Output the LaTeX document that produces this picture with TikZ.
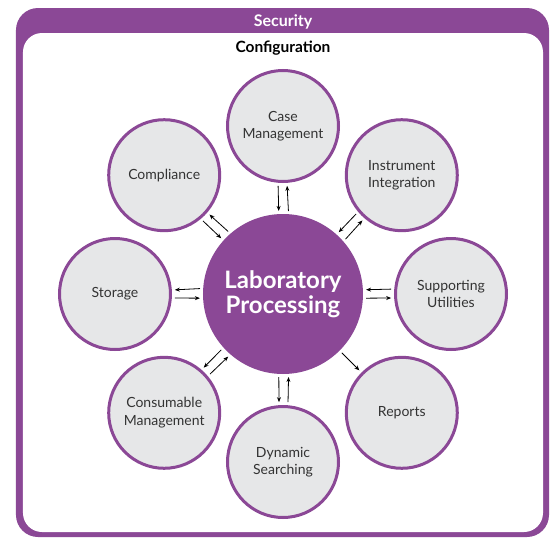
\documentclass[tikz,border=0pt]{standalone}
\usepackage{fontspec}
\setmainfont{Lato}
\usetikzlibrary{arrows.meta}
\definecolor{labpurple}{RGB}{139,72,150}
\definecolor{satgray}{RGB}{230,231,232}
\definecolor{labeltext}{RGB}{51,51,51}
\begin{document}
\begin{tikzpicture}[x=1pt,y=1pt]
\tikzstyle{hub} = [circle, minimum size=160pt, inner sep=0pt, fill=labpurple, text=white, font=\fontsize{24}{24.5}\selectfont\bfseries, align=center]
\tikzstyle{sat} = [circle, minimum size=111pt, inner sep=0pt, draw=labpurple, line width=3pt, fill=satgray, text=labeltext, font=\fontsize{14}{17.5}\selectfont, align=center]
\tikzstyle{link} = [-{Stealth[length=5pt,width=4pt]}, line width=0.8pt, shorten <=3pt, shorten >=3pt]
%
\useasboundingbox (-283,-245) rectangle (269,294);
\fill[labpurple, rounded corners=22pt] (-267,-243) rectangle (266,286);
\fill[white, rounded corners=19pt] (-260,-238) rectangle (260,261);
\node[anchor=base, text=white, font=\fontsize{16}{18}\selectfont\bfseries] (sec) at (0,268) {Security};
\node[anchor=base, font=\fontsize{15.5}{18}\selectfont\bfseries] (conf) at (0,242) {Configuration};
%
\node[hub] (lab) at (0,0) {Laboratory\\Processing};
\node[sat] (case) at (90:168) {Case\\Management};
\node[sat] (inst) at (45:168) {Instrument\\Integration};
\node[sat] (supp) at (0:168) {Supporting\\Utilities};
\node[sat] (rep) at (-45:168) {Reports};
\node[sat] (dyn) at (-90:168) {Dynamic\\Searching};
\node[sat] (cons) at (-135:168) {Consumable\\Management};
\node[sat] (stor) at (180:168) {Storage};
\node[sat] (comp) at (135:168) {Compliance};
%
\draw[link] (lab.86.8) -- (case.274.5);
\draw[link] (case.265.5) -- (lab.93.2);
\draw[link] (lab.41.8) -- (inst.229.5);
\draw[link] (inst.220.5) -- (lab.48.2);
\draw[link] (lab.-3.2) -- (supp.184.5);
\draw[link] (supp.175.5) -- (lab.3.2);
\draw[link] (lab.-45) -- (rep.135);
\draw[link] (lab.-93.2) -- (dyn.94.5);
\draw[link] (dyn.85.5) -- (lab.-86.8);
\draw[link] (lab.-138.2) -- (cons.49.5);
\draw[link] (cons.40.5) -- (lab.-131.8);
\draw[link] (lab.176.8) -- (stor.4.5);
\draw[link] (stor.-4.5) -- (lab.183.2);
\draw[link] (lab.131.8) -- (comp.319.5);
\draw[link] (comp.310.5) -- (lab.138.2);
\end{tikzpicture}
\end{document}
